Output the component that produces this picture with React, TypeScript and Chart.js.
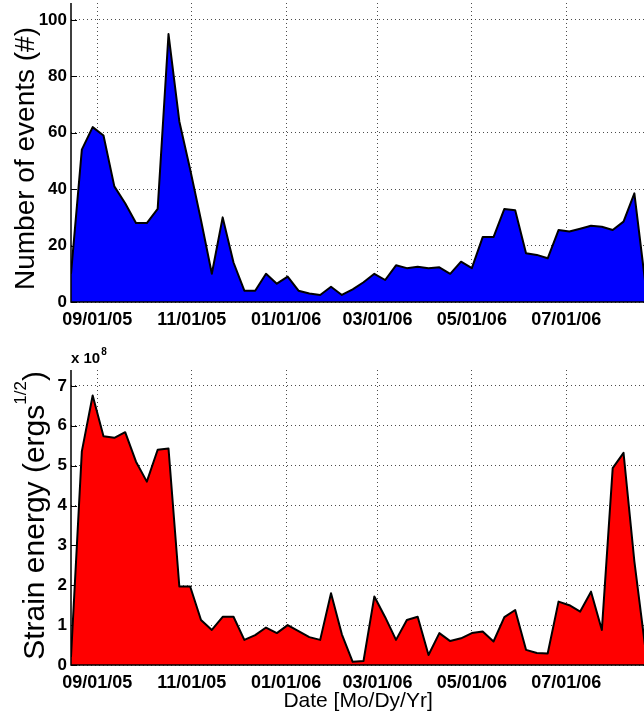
import React, { useEffect, useRef } from 'react';
import { Chart, registerables } from 'chart.js';

Chart.register(...registerables);

// Weekly bins (start date of each week)
const weekStarts = [
  '2005-08-15', '2005-08-22', '2005-08-29', '2005-09-05', '2005-09-12', '2005-09-19',
  '2005-09-26', '2005-10-03', '2005-10-10', '2005-10-17', '2005-10-24', '2005-10-31',
  '2005-11-07', '2005-11-14', '2005-11-21', '2005-11-28', '2005-12-05', '2005-12-12',
  '2005-12-19', '2005-12-26', '2006-01-02', '2006-01-09', '2006-01-16', '2006-01-23',
  '2006-01-30', '2006-02-06', '2006-02-13', '2006-02-20', '2006-02-27', '2006-03-06',
  '2006-03-13', '2006-03-20', '2006-03-27', '2006-04-03', '2006-04-10', '2006-04-17',
  '2006-04-24', '2006-05-01', '2006-05-08', '2006-05-15', '2006-05-22', '2006-05-29',
  '2006-06-05', '2006-06-12', '2006-06-19', '2006-06-26', '2006-07-03', '2006-07-10',
  '2006-07-17', '2006-07-24', '2006-07-31', '2006-08-07', '2006-08-14', '2006-08-21',
];

// Number of events per week
const eventCounts = [
  10, 54, 62, 59, 41, 35,
  28, 28, 33, 95, 64, 47,
  29, 10, 30, 14, 4, 4,
  10, 6.5, 9, 4, 3, 2.5,
  5.4, 2.5, 4.5, 7, 10, 7.8,
  13, 12, 12.5, 12, 12.3, 10,
  14.3, 12, 23, 23, 33, 32.5,
  17.3, 16.7, 15.5, 25.5, 25, 26,
  27, 26.7, 25.5, 28.5, 38.5, 7,
];

// Strain energy per week, in units of 1e8 ergs^(1/2)
const strainEnergyE8 = [
  0.2, 5.36, 6.76, 5.74, 5.7, 5.84,
  5.1, 4.6, 5.4, 5.43, 1.97, 1.97,
  1.13, 0.88, 1.21, 1.21, 0.63, 0.75,
  0.94, 0.8, 1.0, 0.85, 0.7, 0.63,
  1.8, 0.77, 0.08, 0.1, 1.72, 1.2,
  0.63, 1.13, 1.21, 0.25, 0.8, 0.6,
  0.67, 0.8, 0.84, 0.59, 1.2, 1.38,
  0.38, 0.3, 0.29, 1.59, 1.5, 1.34,
  1.84, 0.88, 4.94, 5.32, 2.6, 0.45,
];

const tickDates = ['2005-09-01', '2005-11-01', '2006-01-01', '2006-03-01', '2006-05-01', '2006-07-01'];
const tickLabels = ['09/01/05', '11/01/05', '01/01/06', '03/01/06', '05/01/06', '07/01/06'];
const eventTicks = [0, 20, 40, 60, 80, 100];
const strainTicks = [0, 1, 2, 3, 4, 5, 6, 7];

const FONT = '"Liberation Sans", Arial, Helvetica, sans-serif';
const ORIGIN = Date.UTC(2005, 8, 1);
const toDay = (s: string) => {
  const [y, m, d] = s.split('-').map(Number);
  return (Date.UTC(y, m - 1, d) - ORIGIN) / 86400000;
};
const tickDays = tickDates.map(toDay);

type Part = { text: string; sup?: boolean };

function drawRotated(ctx: CanvasRenderingContext2D, cx: number, cy: number, parts: Part[], size: number) {
  ctx.save();
  ctx.translate(cx, cy);
  ctx.rotate(-Math.PI / 2);
  ctx.fillStyle = '#000';
  ctx.textBaseline = 'middle';
  ctx.textAlign = 'left';
  const main = `${size}px ${FONT}`;
  const sup = `${Math.round(size * 0.55)}px ${FONT}`;
  const widths = parts.map((p) => {
    ctx.font = p.sup ? sup : main;
    return ctx.measureText(p.text).width;
  });
  let x = -widths.reduce((a, b) => a + b, 0) / 2;
  parts.forEach((p, i) => {
    ctx.font = p.sup ? sup : main;
    ctx.fillText(p.text, x, p.sup ? -size * 0.5 : 0);
    x += widths[i];
  });
  ctx.restore();
}

type Decor = {
  yTitle: Part[];
  yTitleX: number;
  yTitleDy: number;
  yTitleSize: number;
  xTitle?: string;
  xTitleY?: number;
  exponent?: { base: string; power: string; y: number };
};

function decorPlugin(o: Decor) {
  return {
    id: 'decor',
    beforeDatasetsDraw(chart: any) {
      // short inward tick marks, hidden under the filled area like the grid
      const { ctx, chartArea: a, scales } = chart;
      ctx.save();
      ctx.strokeStyle = '#000';
      ctx.lineWidth = 1;
      ctx.beginPath();
      scales.x.ticks.forEach((t: any) => {
        const px = Math.round(scales.x.getPixelForValue(t.value)) + 0.5;
        ctx.moveTo(px, a.bottom);
        ctx.lineTo(px, a.bottom - 6);
      });
      scales.y.ticks.forEach((t: any) => {
        const py = Math.round(scales.y.getPixelForValue(t.value)) + 0.5;
        ctx.moveTo(a.left, py);
        ctx.lineTo(a.left + 6, py);
      });
      ctx.stroke();
      ctx.restore();
    },
    afterDatasetsDraw(chart: any) {
      const { ctx, chartArea: a } = chart;
      ctx.save();
      ctx.strokeStyle = '#000';
      ctx.lineWidth = 1.5;
      ctx.beginPath();
      ctx.moveTo(a.left, a.top);
      ctx.lineTo(a.left, a.bottom);
      ctx.lineTo(a.right, a.bottom);
      ctx.stroke();
      ctx.restore();
    },
    afterDraw(chart: any) {
      const { ctx, chartArea: a } = chart;
      drawRotated(ctx, o.yTitleX, (a.top + a.bottom) / 2 + o.yTitleDy, o.yTitle, o.yTitleSize);
      ctx.save();
      ctx.fillStyle = '#000';
      if (o.xTitle) {
        ctx.font = `21px ${FONT}`;
        ctx.textAlign = 'center';
        ctx.textBaseline = 'middle';
        ctx.fillText(o.xTitle, (a.left + a.right) / 2, o.xTitleY);
      }
      if (o.exponent) {
        ctx.textAlign = 'left';
        ctx.textBaseline = 'alphabetic';
        ctx.font = `bold 15px ${FONT}`;
        ctx.fillText(o.exponent.base, a.left, o.exponent.y);
        const w = ctx.measureText(o.exponent.base).width;
        ctx.font = `bold 10px ${FONT}`;
        ctx.fillText(o.exponent.power, a.left + w + 1, o.exponent.y - 8);
      }
      ctx.restore();
    },
  };
}

type PanelProps = {
  values: number[];
  fillColor: string;
  yMax: number;
  yTicks: number[];
  padTop: number;
  xAxisHeight: number;
  width: number;
  height: number;
  decor: Decor;
};

function makeConfig(p: PanelProps): any {
  const plotRight = 645.2;
  const gridColor = 'rgba(0,0,0,0.7)';
  return {
    type: 'line',
    data: {
      datasets: [
        {
          data: weekStarts.map((d, i) => ({ x: toDay(d), y: p.values[i] })),
          backgroundColor: p.fillColor,
          borderColor: '#000',
          borderWidth: 2,
          borderJoinStyle: 'round',
          fill: 'origin',
          pointRadius: 0,
          tension: 0,
        },
      ],
    },
    options: {
      responsive: false,
      animation: false,
      events: [],
      layout: { padding: { top: p.padTop, right: p.width - plotRight, left: 0, bottom: 0 } },
      plugins: { legend: { display: false }, tooltip: { enabled: false } },
      scales: {
        x: {
          type: 'linear',
          min: toDay(weekStarts[0]),
          max: toDay(weekStarts[weekStarts.length - 1]),
          afterBuildTicks: (axis: any) => {
            axis.ticks = tickDays.map((v) => ({ value: v }));
          },
          afterFit: (axis: any) => {
            axis.height = p.xAxisHeight;
            axis.paddingLeft = 0;
            axis.paddingRight = 0;
          },
          ticks: {
            autoSkip: false,
            maxRotation: 0,
            padding: 7,
            color: '#000',
            font: { family: FONT, size: 18, weight: 'bold' },
            callback: (v: number) => {
              const i = tickDays.indexOf(v);
              return i >= 0 ? tickLabels[i] : '';
            },
          },
          grid: { color: gridColor, lineWidth: 1, drawTicks: false },
          border: { display: false, dash: [1, 3] },
        },
        y: {
          min: 0,
          max: p.yMax,
          afterBuildTicks: (axis: any) => {
            axis.ticks = p.yTicks.map((v) => ({ value: v }));
          },
          afterFit: (axis: any) => {
            axis.width = 71;
            axis.paddingTop = 0;
            axis.paddingBottom = 0;
          },
          ticks: {
            padding: 4,
            color: '#000',
            font: { family: FONT, size: 17, weight: 'bold' },
          },
          grid: { color: gridColor, lineWidth: 1, drawTicks: false },
          border: { display: false, dash: [1, 3] },
        },
      },
    },
    plugins: [decorPlugin(p.decor)],
  };
}

function Panel(props: PanelProps & { top: number }) {
  const ref = useRef<HTMLCanvasElement>(null);
  useEffect(() => {
    if (!ref.current) return;
    const chart = new Chart(ref.current, makeConfig(props));
    return () => chart.destroy();
  }, []);
  return (
    <canvas
      ref={ref}
      width={props.width}
      height={props.height}
      style={{ position: 'absolute', left: 0, top: props.top, width: props.width, height: props.height }}
    />
  );
}

export default function App() {
  return (
    <div
      style={{
        position: 'fixed',
        left: 0,
        top: 0,
        width: 644,
        height: 715,
        overflow: 'hidden',
        background: '#fff',
      }}
    >
      <Panel
        top={0}
        width={650}
        height={335}
        values={eventCounts}
        fillColor="#0000ff"
        yMax={106}
        yTicks={eventTicks}
        padTop={3}
        xAxisHeight={33}
        decor={{
          yTitle: [{ text: 'Number of events (#)' }],
          yTitleX: 26,
          yTitleDy: 6,
          yTitleSize: 28,
        }}
      />
      <Panel
        top={340}
        width={650}
        height={375}
        values={strainEnergyE8}
        fillColor="#ff0000"
        yMax={7.4}
        yTicks={strainTicks}
        padTop={30}
        xAxisHeight={50}
        decor={{
          yTitle: [{ text: 'Strain energy (ergs' }, { text: '1/2', sup: true }, { text: ')' }],
          yTitleX: 36,
          yTitleDy: -2,
          yTitleSize: 30,
          xTitle: 'Date [Mo/Dy/Yr]',
          xTitleY: 361,
          exponent: { base: 'x 10', power: '8', y: 23 },
        }}
      />
    </div>
  );
}
